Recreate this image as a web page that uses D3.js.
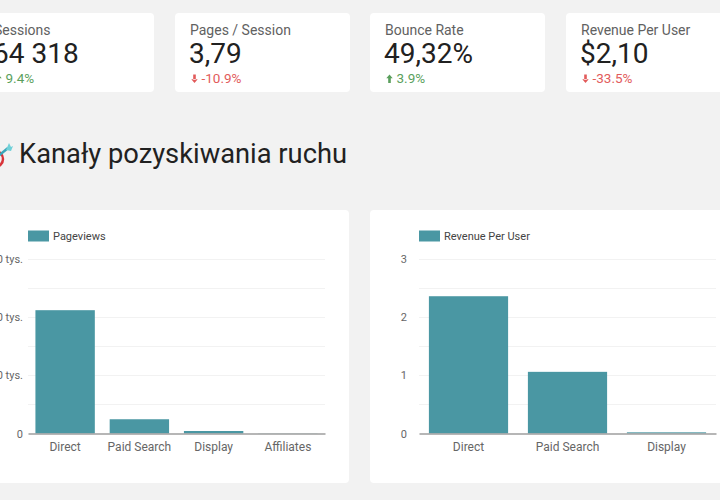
<!DOCTYPE html>
<html>
<head>
<meta charset="utf-8">
<script src="https://cdn.jsdelivr.net/npm/d3@7/dist/d3.min.js"></script>
<style>
  html, body { margin: 0; padding: 0; background: #f2f2f2; overflow: hidden; }
  svg { display: block; font-family: Roboto, "Noto Sans", sans-serif; }
</style>
</head>
<body>
<svg id="chart" width="720" height="500"></svg>
<script>
// ---- data ----
const kpiLabels = ["Sessions", "Pages / Session", "Bounce Rate", "Revenue Per User"];
const kpiValues = ["64 318", "3,79", "49,32%", "$2,10"];
const kpiDeltas = [9.4, -10.9, 3.9, -33.5];

const heading = "Kanały pozyskiwania ruchu";

const pageviewChannels = ["Direct", "Paid Search", "Display", "Affiliates"];
const pageviews = [212000, 24500, 4300, 300];
const pageviewTicks = [0, 100000, 200000, 300000];
const pageviewTickLabels = ["0", "100 tys.", "200 tys.", "300 tys."];
const pageviewMinorTicks = [50000, 150000, 250000];

const revenueChannels = ["Direct", "Paid Search", "Display"];
const revenuePerUser = [2.36, 1.06, 0.02];
const revenueTicks = [0, 1, 2, 3];
const revenueTickLabels = ["0", "1", "2", "3"];
const revenueMinorTicks = [0.5, 1.5, 2.5];

// ---- drawing ----
const svg = d3.select("#chart");
const BAR = "#4a97a3";
const GREEN = "#5a9f5c";
const RED = "#e25b5b";

svg.append("rect").attr("width", 720).attr("height", 500).attr("fill", "#f2f2f2");

// KPI cards
const cardX = [-21, 175, 370, 566];
kpiLabels.forEach((lab, i) => {
  const g = svg.append("g").attr("transform", `translate(${cardX[i]},13)`);
  g.append("rect").attr("width", 175).attr("height", 79).attr("rx", 4).attr("fill", "#fff");
  g.append("text").attr("x", 15).attr("y", 22).attr("font-size", 14).attr("fill", "#616161").text(lab);
  g.append("text").attr("x", 14).attr("y", 50).attr("font-size", 28).attr("fill", "#212121").text(kpiValues[i]);
  const d = kpiDeltas[i];
  const col = d >= 0 ? GREEN : RED;
  const ax = 19.5, top = 61.5, bot = 70;
  if (d >= 0) {
    g.append("path").attr("d", `M${ax-3.2},${top+3.8} L${ax},${top} L${ax+3.2},${top+3.8} Z M${ax-1.3},${top+3} h2.6 V${bot} h-2.6 Z`).attr("fill", col);
  } else {
    g.append("path").attr("d", `M${ax-3.2},${bot-3.8} L${ax},${bot} L${ax+3.2},${bot-3.8} Z M${ax-1.3},${top} h2.6 V${bot-3} h-2.6 Z`).attr("fill", col);
  }
  g.append("text").attr("x", 26.5).attr("y", 69.5).attr("font-size", 13.5).attr("fill", col)
    .text(d.toFixed(1) + "%");
});

// heading icon (dart in target, cropped at the left edge)
const icon = svg.append("g");
icon.append("circle").attr("cx", -5).attr("cy", 159).attr("r", 8).attr("fill", "none").attr("stroke", "#d8343a").attr("stroke-width", 2.5);
icon.append("circle").attr("cx", -5).attr("cy", 159).attr("r", 3.5).attr("fill", "#d8343a");
icon.append("line").attr("x1", -4).attr("y1", 158).attr("x2", 8).attr("y2", 148).attr("stroke", "#3aa6b9").attr("stroke-width", 2.5);
icon.append("path").attr("d", "M6,150 L9,143 L11,147 L13,146 L11,151 Z").attr("fill", "#6fd0d8");

svg.append("text").attr("x", 19).attr("y", 163).attr("font-size", 27.3).attr("fill", "#212121").text(heading);

// Bar chart helper
function barChart(opts) {
  const g = svg.append("g");
  g.append("rect").attr("x", opts.cardX).attr("y", 210).attr("width", 374).attr("height", 273)
    .attr("rx", 4).attr("fill", "#fff");

  const x = d3.scaleBand().domain(opts.cats).range([opts.x0, opts.x1]).paddingInner(0.2).paddingOuter(0.1);
  const y = d3.scaleLinear().domain([0, opts.ymax]).range([433.5, 259]);

  // gridlines (major + minor)
  const grid = g.append("g");
  opts.ticks.concat(opts.minor).filter(v => v > 0).forEach(v => {
    grid.append("line").attr("x1", opts.x0).attr("x2", opts.x1)
      .attr("y1", Math.round(y(v)) + 0.5).attr("y2", Math.round(y(v)) + 0.5)
      .attr("stroke", "#f2f2f2").attr("stroke-width", 1);
  });

  // y axis labels
  const yAxis = d3.axisLeft(y).tickValues(opts.ticks).tickSize(0).tickPadding(opts.yPad)
    .tickFormat((v, i) => opts.tickLabels[i]);
  const ya = g.append("g").attr("transform", `translate(${opts.x0},0)`).call(yAxis);
  ya.select(".domain").remove();
  ya.selectAll("text").attr("font-size", 11).attr("fill", "#666").attr("font-family", "Roboto, sans-serif");

  // bars
  g.append("g").selectAll("rect").data(opts.values).join("rect")
    .attr("x", (d, i) => x(opts.cats[i]))
    .attr("width", x.bandwidth())
    .attr("y", d => y(d))
    .attr("height", d => 433.5 - y(d))
    .attr("fill", BAR);

  // x axis
  const xAxis = d3.axisBottom(x).tickSize(0).tickSizeOuter(0).tickPadding(9);
  const xa = g.append("g").attr("transform", "translate(0,433.5)").call(xAxis);
  xa.select(".domain").attr("stroke", "#9e9e9e").attr("stroke-width", 1.5);
  xa.selectAll("text").attr("font-size", 12).attr("fill", "#666").attr("font-family", "Roboto, sans-serif");

  // legend
  g.append("rect").attr("x", opts.x0).attr("y", 230.5).attr("width", 21).attr("height", 11).attr("fill", BAR);
  g.append("text").attr("x", opts.x0 + 25).attr("y", 240).attr("font-size", 11).attr("fill", "#444").text(opts.legend);
}

barChart({
  cardX: -25, x0: 28, x1: 325, cats: pageviewChannels, values: pageviews,
  ymax: 300000, ticks: pageviewTicks, tickLabels: pageviewTickLabels, minor: pageviewMinorTicks,
  yPad: 5, legend: "Pageviews"
});
barChart({
  cardX: 370, x0: 419, x1: 716, cats: revenueChannels, values: revenuePerUser,
  ymax: 3, ticks: revenueTicks, tickLabels: revenueTickLabels, minor: revenueMinorTicks,
  yPad: 12, legend: "Revenue Per User"
});
</script>
</body>
</html>
